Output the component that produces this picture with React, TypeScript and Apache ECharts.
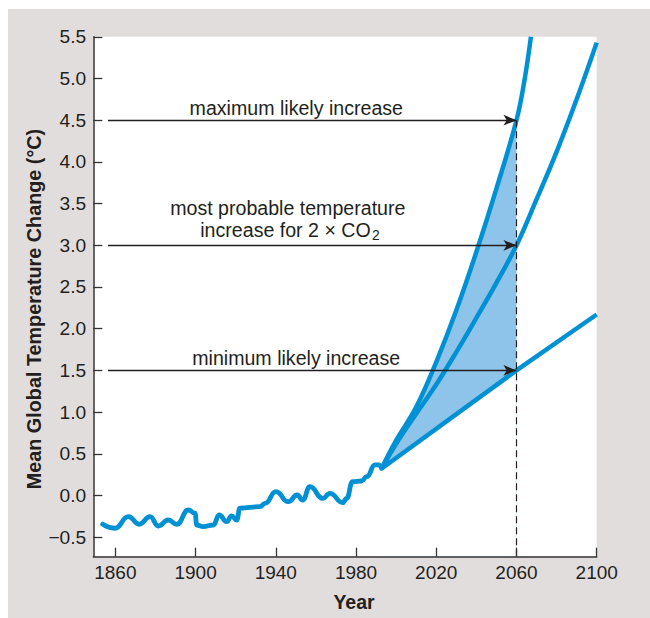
import React, { useEffect, useRef } from "react";
import * as echarts from "echarts";

// ---- data ----
const histYears = [1853.7, 1859.8, 1866.5, 1871.9, 1877.3, 1881.4, 1886.4, 1890.6, 1896.4, 1899.7, 1900.6, 1903.8, 1908.8, 1911.8, 1915.5, 1918.0, 1920.5, 1922.1, 1932.1, 1934.6, 1940.1, 1946.2, 1950.7, 1953.4, 1957.0, 1963.4, 1967.0, 1973.4, 1975.3, 1978.3, 1982.8, 1985.3, 1989.5, 1991.1, 1992.8];
const histValues = [-0.345, -0.393, -0.254, -0.345, -0.254, -0.366, -0.294, -0.345, -0.174, -0.213, -0.354, -0.374, -0.354, -0.234, -0.314, -0.246, -0.294, -0.153, -0.134, -0.094, 0.046, -0.074, 0.006, -0.054, 0.106, -0.034, 0.026, -0.086, -0.034, 0.165, 0.174, 0.225, 0.366, 0.366, 0.324];

const maxYears = [1992.8, 2000, 2010, 2020, 2030, 2040, 2050, 2060, 2064, 2067.2];
const maxValues = [0.324, 0.66, 1.06, 1.6, 2.22, 2.92, 3.68, 4.5, 4.98, 5.5];

const midYears = [1992.8, 2000, 2010, 2020, 2030, 2040, 2050, 2060, 2070, 2080, 2090, 2100];
const midValues = [0.324, 0.62, 0.98, 1.33, 1.72, 2.13, 2.55, 3.0, 3.55, 4.12, 4.75, 5.43];

const minYears = [1992.8, 2060, 2100];
const minValues = [0.324, 1.5, 2.17];

const yTicks = [-0.5, 0, 0.5, 1, 1.5, 2, 2.5, 3, 3.5, 4, 4.5, 5, 5.5];
const xTicks = [1860, 1900, 1940, 1980, 2020, 2060, 2100];

const arrowLevels = [4.5, 3.0, 1.5];
const markYear = 2060;
const arrowStartYear = 1856.3;

const X_MIN = 1849;
const X_MAX = 2100;
const Y_MIN = -0.734;
const Y_MAX = 5.5;

const BLUE = "#0091d5";
const FILL = "#8ec4e9";
const INK = "#231f20";
const FONT = "'Liberation Sans', Arial, Helvetica, sans-serif";

const pairs = (xs: number[], ys: number[]) => xs.map((x, i) => [x, ys[i]]);
const upTo = (xs: number[], ys: number[], lim: number) =>
  xs.map((x, i) => [x, ys[i]]).filter((p) => p[0] <= lim);

export default function App() {
  const ref = useRef<HTMLDivElement>(null);
  useEffect(() => {
    if (!ref.current) return;
    const chart = echarts.init(ref.current, null, { renderer: "svg" });
    const fmt = (v: number) => (v < 0 ? "\u2212" : "") + Math.abs(v).toFixed(1);

    const arrowLines = arrowLevels.map((lv) => [
      { coord: [arrowStartYear, lv], symbol: "none" },
      { coord: [markYear, lv], symbol: "arrow", symbolSize: [8, 13] },
    ]);
    const dashLine = [
      { coord: [markYear, 4.5], symbol: "none", lineStyle: { type: [7, 4], color: INK, width: 1.2 } },
      { coord: [markYear, Y_MIN], symbol: "none" },
    ];

    // white mask under the minimum line (starts a little left of the
    // projection origin so that no anti-aliased seam of the band remains)
    const maskData = [[histYears[histYears.length - 2], minValues[0]], ...upTo(minYears, minValues, markYear)];

    const annot = (text: string, x: number, y: number, align = "center", size = 19.6) => ({
      type: "text",
      x,
      y,
      style: { text, fontSize: size, fontFamily: FONT, fill: INK, align, verticalAlign: "middle" },
    });

    const option: any = {
      animation: false,
      backgroundColor: "#e2dddd",
      grid: {
        left: 85.3,
        right: 53.3,
        top: 27.8,
        bottom: 61.3,
        show: true,
        backgroundColor: "#ffffff",
        borderWidth: 0,
      },
      xAxis: {
        type: "value",
        min: X_MIN,
        max: X_MAX,
        z: 6,
        splitLine: { show: false },
        axisLine: { show: true, onZero: false, lineStyle: { color: "#333", width: 1.5 } },
        axisTick: { show: true, inside: true, length: 9, customValues: xTicks, lineStyle: { color: "#333", width: 1.3 } },
        axisLabel: {
          customValues: xTicks,
          color: INK,
          fontSize: 19,
          fontFamily: FONT,
          margin: 6,
          formatter: (v: number) => String(v),
        },
      },
      yAxis: {
        type: "value",
        min: Y_MIN,
        max: Y_MAX,
        z: 6,
        splitNumber: 12,
        splitLine: { show: false },
        axisLine: { show: true, onZero: false, lineStyle: { color: "#333", width: 1.5 } },
        axisTick: { show: true, inside: true, length: 9, customValues: yTicks, lineStyle: { color: "#333", width: 1.3 } },
        axisLabel: {
          customValues: yTicks,
          color: INK,
          fontSize: 19.2,
          fontFamily: FONT,
          margin: 7,
          formatter: fmt,
        },
      },
      graphic: [
        {
          type: "text",
          x: 25.5,
          y: 300,
          rotation: Math.PI / 2,
          style: {
            text: "Mean Global Temperature Change (\u00B0C)",
            fontSize: 19.8,
            fontWeight: "bold",
            fontFamily: FONT,
            fill: INK,
            align: "center",
            verticalAlign: "middle",
          },
        },
        {
          type: "text",
          x: 346,
          y: 592.7,
          style: { text: "Year", fontSize: 19.5, fontWeight: "bold", fontFamily: FONT, fill: INK, align: "center", verticalAlign: "middle" },
        },
        annot("maximum likely increase", 288.3, 98.9),
        annot("most probable temperature", 279.8, 199.4),
        annot("increase for 2 \u00D7 CO", 362.7, 221.1, "right"),
        annot("2", 364, 226, "left", 13.8),
        annot("minimum likely increase", 288.2, 349.4),
      ],
      series: [
        {
          name: "fillMax",
          type: "line",
          z: 1,
          data: upTo(maxYears, maxValues, markYear),
          smooth: 0.4,
          showSymbol: false,
          silent: true,
          lineStyle: { width: 0, opacity: 0 },
          areaStyle: { color: FILL, opacity: 1, origin: "start" },
        },
        {
          name: "fillMin",
          type: "line",
          z: 1,
          data: maskData,
          showSymbol: false,
          silent: true,
          lineStyle: { width: 0, opacity: 0 },
          areaStyle: { color: "#ffffff", opacity: 1, origin: "start" },
        },
        {
          name: "historical",
          type: "line",
          z: 3,
          data: pairs(histYears, histValues),
          smooth: 0.5,
          smoothMonotone: "x",
          showSymbol: false,
          silent: true,
          lineStyle: { color: BLUE, width: 4.8, cap: "round", join: "round" },
        },
        {
          name: "max",
          type: "line",
          z: 3,
          data: pairs(maxYears, maxValues),
          smooth: 0.4,
          showSymbol: false,
          silent: true,
          lineStyle: { color: BLUE, width: 4.5, join: "round" },
        },
        {
          name: "mid",
          type: "line",
          z: 3,
          data: pairs(midYears, midValues),
          smooth: 0.4,
          showSymbol: false,
          silent: true,
          lineStyle: { color: BLUE, width: 4.5, join: "round" },
        },
        {
          name: "min",
          type: "line",
          z: 4,
          data: pairs(minYears, minValues),
          showSymbol: false,
          silent: true,
          lineStyle: { color: BLUE, width: 4.5, join: "round" },
          markLine: {
            silent: true,
            animation: false,
            symbol: ["none", "arrow"],
            symbolSize: [8, 13],
            label: { show: false },
            emphasis: { disabled: true },
            lineStyle: { color: INK, width: 1.3, type: "solid" },
            data: [...arrowLines, dashLine],
          },
        },
      ],
    };
    chart.setOption(option);
    return () => chart.dispose();
  }, []);

  return (
    <div style={{ position: "absolute", left: 0, top: 0, width: 650, height: 618, background: "#ffffff" }}>
      <div ref={ref} style={{ position: "absolute", left: 8, top: 9, width: 642, height: 609 }} />
    </div>
  );
}
